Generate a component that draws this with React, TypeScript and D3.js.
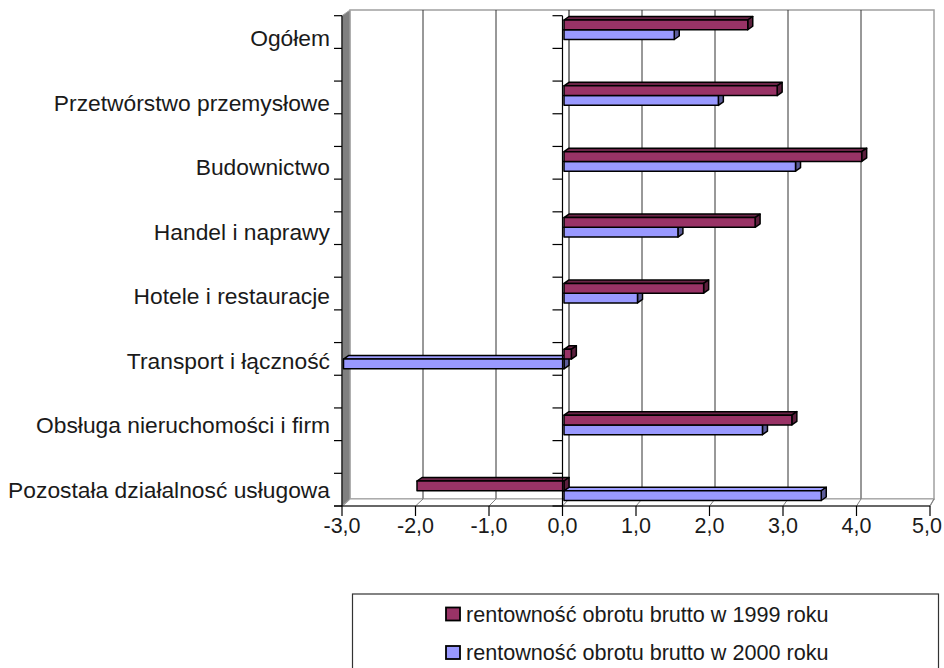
import React from 'react';
import * as d3 from 'd3';

const categories = [
  'Ogółem',
  'Przetwórstwo przemysłowe',
  'Budownictwo',
  'Handel i naprawy',
  'Hotele i restauracje',
  'Transport i łączność',
  'Obsługa nieruchomości i firm',
  'Pozostała działalnosć usługowa',
];
const values1999 = [2.5, 2.9, 4.05, 2.6, 1.9, 0.1, 3.1, -2.0];
const values2000 = [1.5, 2.1, 3.15, 1.55, 1.0, -3.0, 2.7, 3.5];
const xTicks = [-3, -2, -1, 0, 1, 2, 3, 4, 5];
const seriesNames = ['rentowność obrotu brutto w 1999 roku', 'rentowność obrotu brutto w 2000 roku'];
const seriesColors = ['#993366', '#9999ff'];
const sideColors = ['#5c1f3d', '#5c5c99'];
const topColors = ['#6b2447', '#9d9dff'];

const W = 944;
const H = 668;
const FONT = '"Liberation Sans", Arial, sans-serif';

const App = () => {
  // front plane and back wall value scales (3D perspective)
  const xFront = d3.scaleLinear().domain([-3, 5]).range([342, 930]);
  const xBack = d3.scaleLinear().domain([-3, 5]).range([350, 934]);
  const xBar = d3.scaleLinear().domain([-3, 5]).range([343.5, 931.5]);

  const frontTop = 15.7;
  const frontBottom = 506;
  const backTop = 10;
  const backBottom = 499;

  const yCat = d3.scaleBand().domain(categories).range([30 - 32.93, 491 + 32.93]);
  const ySer = d3.scaleBand().domain(['1999', '2000']).range([-10, 9.5]);
  const center = (c: string) => (yCat(c) as number) + yCat.bandwidth() / 2;
  // labels sit on a slightly tighter spacing than the bars
  const yLabel = d3.scalePoint().domain(categories).range([38, 490]);

  const tickCount = 16;
  const yTick = d3.scaleLinear().domain([0, tickCount - 1]).range([frontTop, frontBottom]);
  const tickIdx = d3.range(tickCount);

  const dx = 5;
  const dy = -3.5;

  const box = (v: number, c: string, s: number, key: string) => {
    const a = xBar(0);
    const b = xBar(v);
    const x0 = Math.min(a, b);
    const x1 = Math.max(a, b);
    const y0 = center(c) + (ySer(s === 0 ? '1999' : '2000') as number);
    const y1 = y0 + ySer.bandwidth();
    const top = `${x0},${y0} ${x1},${y0} ${x1 + dx},${y0 + dy} ${x0 + dx},${y0 + dy}`;
    const side = `${x1},${y0} ${x1 + dx},${y0 + dy} ${x1 + dx},${y1 + dy} ${x1},${y1}`;
    return (
      <g key={key} stroke="#000" strokeWidth={1.5} strokeLinejoin="round">
        <polygon points={top} fill={topColors[s]} />
        <polygon points={side} fill={sideColors[s]} />
        <rect x={x0} y={y0} width={x1 - x0} height={y1 - y0} fill={seriesColors[s]} />
      </g>
    );
  };

  return (
    <svg width={W} height={H} style={{ position: 'absolute', left: 0, top: 0, background: '#fff' }}>
      {/* back wall */}
      <rect x={xBack(-3)} y={backTop} width={xBack(5) - xBack(-3)} height={backBottom - backTop}
        fill="#fff" stroke="#a0a0a0" strokeWidth={1.5} />
      {xTicks.filter(t => t > -3 && t < 5).map(t => (
        <line key={'g' + t} x1={xBack(t)} x2={xBack(t)} y1={backTop} y2={backBottom}
          stroke={t === 0 ? '#000' : '#333'} strokeWidth={1} />
      ))}

      {/* floor */}
      <polygon
        points={`${xFront(-3)},${frontBottom} ${xFront(5)},${frontBottom} ${xBack(5)},${backBottom} ${xBack(-3)},${backBottom}`}
        fill="#fff" stroke="#a0a0a0" strokeWidth={1.2} />
      {xTicks.map(t => (
        <line key={'f' + t} x1={xFront(t)} y1={frontBottom} x2={xBack(t)} y2={backBottom}
          stroke="#808080" strokeWidth={1} />
      ))}

      {/* left wall */}
      <polygon
        points={`${xFront(-3)},${frontTop} ${xBack(-3)},${backTop} ${xBack(-3)},${backBottom} ${xFront(-3)},${frontBottom}`}
        fill="#808080" stroke="#a8a8a8" strokeWidth={1} />

      {/* bars: 2000 first, 1999 drawn over it */}
      {categories.map((c, i) => box(values2000[i], c, 1, 'b2000' + i))}
      {categories.map((c, i) => box(values1999[i], c, 0, 'b1999' + i))}

      {/* category axes */}
      <line x1={xFront(-3)} x2={xFront(-3)} y1={frontTop} y2={frontBottom} stroke="#000" strokeWidth={1.2} />
      <line x1={xFront(0)} x2={xFront(0)} y1={frontTop} y2={frontBottom} stroke="#000" strokeWidth={1.2} />
      {tickIdx.map(i => (
        <g key={'t' + i} stroke="#000" strokeWidth={1.2}>
          <line x1={xFront(-3) - 8} x2={xFront(-3)} y1={yTick(i)} y2={yTick(i)} />
          <line x1={xFront(0) - 10} x2={xFront(0)} y1={yTick(i)} y2={yTick(i)} />
        </g>
      ))}

      {/* value axis */}
      <line x1={xFront(-3) - 8} x2={xFront(5)} y1={frontBottom} y2={frontBottom} stroke="#000" strokeWidth={1.2} />
      {xTicks.map(t => (
        <line key={'x' + t} x1={xFront(t)} x2={xFront(t)} y1={frontBottom} y2={frontBottom + 10}
          stroke="#000" strokeWidth={1.2} />
      ))}
      {xTicks.map(t => (
        <text key={'xl' + t} x={Math.min(xFront(t), 927)} y={533} textAnchor="middle" fontFamily={FONT}
          fontSize={21.5} fill="#1a1a1a">
          {d3.format('.1f')(t).replace('.', ',').replace('−', '-')}
        </text>
      ))}

      {/* category labels */}
      {categories.map(c => (
        <text key={'cl' + c} x={330} y={(yLabel(c) as number) + 8} textAnchor="end" fontFamily={FONT}
          fontSize={22.8} fill="#1a1a1a">
          {c}
        </text>
      ))}

      {/* legend */}
      <rect x={352.5} y={594} width={586} height={90} fill="#fff" stroke="#333" strokeWidth={1.2} />
      {seriesNames.map((n, i) => (
        <g key={'lg' + i}>
          <rect x={446} y={607.5 + i * 38.5} width={14} height={13} fill={seriesColors[i]}
            stroke="#000" strokeWidth={1.8} />
          <text x={466} y={621.5 + i * 38.5} fontFamily={FONT} fontSize={21.6} fill="#1a1a1a">{n}</text>
        </g>
      ))}
    </svg>
  );
};

export default App;
